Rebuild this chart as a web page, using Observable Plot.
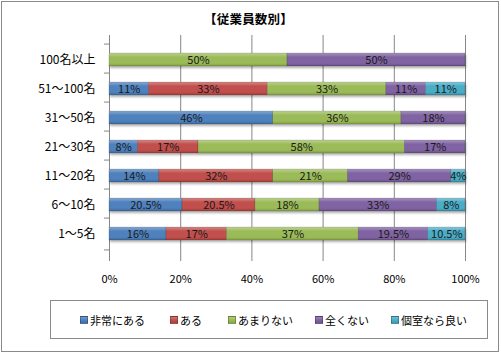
<!DOCTYPE html>
<html>
<head>
<meta charset="utf-8">
<script src="https://cdn.jsdelivr.net/npm/d3@7"></script>
<script src="https://cdn.jsdelivr.net/npm/@observablehq/plot@0.6"></script>
<style>
  html, body { margin: 0; padding: 0; background: #fff; }
  body { width: 501px; height: 353px; position: relative; overflow: hidden;
         font-family: "Noto Sans CJK JP", "Noto Sans", sans-serif; }
  #frame { position: absolute; left: 1px; top: 1px; width: 496px; height: 349px; border: 1px solid #8a8a8a; }
  #title { position: absolute; left: 0; top: 9px; width: 497px; text-align: center;
           font-size: 12.5px; font-weight: bold; color: #000; letter-spacing: 0.2px; }
  #chart { position: absolute; left: 0; top: 0; }
  #legend { position: absolute; left: 50px; top: 300px; width: 436px; height: 37px;
            border: 1px solid #8a8a8a; font-size: 11px; color: #000; }
  #legend .item { position: absolute; top: 11px; display: flex; align-items: center; white-space: nowrap; }
  #legend .sw { width: 6px; height: 6px; margin-right: 2px; border: 0.5px solid rgba(0,0,0,0.25); }
</style>
</head>
<body>
<div id="frame"></div>
<div id="chart"></div>
<div id="title">【従業員数別】</div>
<div id="legend"></div>
<script>
// ---- data ----
const categories = ["100名以上", "51〜100名", "31〜50名", "21〜30名", "11〜20名", "6〜10名", "1〜5名"];
const series = ["非常にある", "ある", "あまりない", "全くない", "個室なら良い"];
const veryMuch  = [0, 11, 46, 8, 14, 20.5, 16];
const some      = [0, 33, 0, 17, 32, 20.5, 17];
const notMuch   = [50, 33, 36, 58, 21, 18, 37];
const notAtAll  = [50, 11, 18, 17, 29, 33, 19.5];
const privateOk = [0, 11, 0, 0, 4, 8, 10.5];
const xTicks = [0, 0.2, 0.4, 0.6, 0.8, 1];

const colors = ["#4F81BD", "#C0504D", "#9BBB59", "#8064A2", "#4BACC6"];
const seriesValues = [veryMuch, some, notMuch, notAtAll, privateOk];

const data = [];
categories.forEach((c, i) => {
  series.forEach((s, j) => {
    data.push({cat: c, series: s, value: seriesValues[j][i]});
  });
});
const nonZero = data.filter(d => d.value > 0);

const gradIds = colors.map((c, i) => `g${i}`);

const plot = Plot.plot({
  width: 501,
  height: 290,
  marginTop: 35,
  marginBottom: 32,
  marginLeft: 109,
  marginRight: 36,
  style: {fontFamily: '"Noto Sans CJK JP", "Noto Sans", sans-serif', fontSize: "11px", color: "#000", background: "transparent"},
  x: {domain: [0, 1], axis: null, label: null},
  y: {domain: categories, padding: 0.56, axis: null, label: null},
  color: {domain: series, range: gradIds.map(id => `url(#${id})`)},
  marks: [
    Plot.gridX(xTicks.slice(1), {stroke: "#878787", strokeOpacity: 1, strokeWidth: 1}),
    Plot.ruleX([0], {stroke: "#878787", strokeWidth: 1}),
    Plot.axisX(xTicks, {tickSize: 3, tickPadding: 14, label: null, tickFormat: d => `${Math.round(d * 100)}%`, stroke: "#878787", fontSize: 11, fill: "#000"}),
    Plot.axisY(categories, {tickSize: 5, tickFormat: null, label: null, dy: -15.93, stroke: "#878787"}),
    Plot.axisY(categories.slice(-1), {tickSize: 5, tickFormat: null, label: null, dy: 15.93, stroke: "#878787"}),
    Plot.axisY(categories, {tickSize: 0, tickPadding: 14, label: null, fontSize: 12, fill: "#000"}),
    Plot.barX(data, Plot.stackX({x: "value", y: "cat", fill: "series", offset: "normalize", inset: 0})),
    Plot.textX(nonZero, Plot.stackX({x: "value", y: "cat", text: d => `${d.value}%`, offset: "normalize", fill: "#1a1a1a", fontSize: 11}))
  ]
});

// gradients + shadow defs
const ns = "http://www.w3.org/2000/svg";
const defs = document.createElementNS(ns, "defs");
const shade = (c, k) => { const h = d3.hsl(c); return k > 0 ? h.brighter(k).formatHex() : h.darker(-k).formatHex(); };
colors.forEach((c, i) => {
  const g = document.createElementNS(ns, "linearGradient");
  g.setAttribute("id", gradIds[i]);
  g.setAttribute("x1", "0"); g.setAttribute("y1", "0"); g.setAttribute("x2", "0"); g.setAttribute("y2", "1");
  [[0, shade(c, 0.7)], [0.2, shade(c, 0.3)], [0.32, c], [0.78, c], [1, shade(c, -0.6)]].forEach(([o, col]) => {
    const s = document.createElementNS(ns, "stop");
    s.setAttribute("offset", o); s.setAttribute("stop-color", col);
    g.appendChild(s);
  });
  defs.appendChild(g);
});
const filt = document.createElementNS(ns, "filter");
filt.setAttribute("id", "shadow");
filt.setAttribute("x", "-5%"); filt.setAttribute("y", "-20%"); filt.setAttribute("width", "110%"); filt.setAttribute("height", "160%");
filt.innerHTML = '<feDropShadow dx="1" dy="2" stdDeviation="1" flood-color="#000" flood-opacity="0.3"/>';
defs.appendChild(filt);
plot.insertBefore(defs, plot.firstChild);
const barG = plot.querySelector('g[aria-label="bar"]');
if (barG) {
  barG.setAttribute("filter", "url(#shadow)");
  barG.querySelectorAll("rect").forEach((r, i) => {
    r.setAttribute("stroke", "rgba(0,0,0,0.25)");
    r.setAttribute("stroke-width", "0.5");
  });
}
document.getElementById("chart").appendChild(plot);

// legend
const legend = document.getElementById("legend");
const legendX = [29, 119, 177, 264, 340];
series.forEach((s, i) => {
  const item = document.createElement("div");
  item.className = "item";
  item.style.left = legendX[i] + "px";
  const sw = document.createElement("span");
  sw.className = "sw";
  sw.style.background = `linear-gradient(${shade(colors[i], 0.5)}, ${colors[i]} 50%, ${shade(colors[i], -0.4)})`;
  const lab = document.createElement("span");
  lab.textContent = s;
  item.appendChild(sw); item.appendChild(lab);
  legend.appendChild(item);
});
</script>
</body>
</html>
